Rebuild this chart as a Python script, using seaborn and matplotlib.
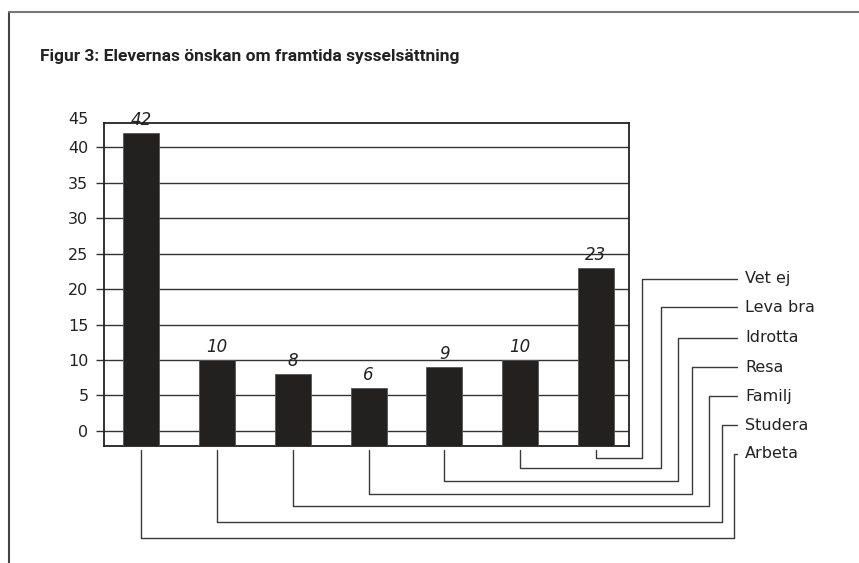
import matplotlib
matplotlib.use("Agg")
import matplotlib.pyplot as plt
from matplotlib.lines import Line2D
import seaborn as sns
import pandas as pd

# data
kategorier = ['Arbeta', 'Studera', 'Familj', 'Resa', 'Idrotta', 'Leva bra', 'Vet ej']
antal = [42, 10, 8, 6, 9, 10, 23]
y_ticks = [0, 5, 10, 15, 20, 25, 30, 35, 40]
y_top_label = '45'
titel = 'Figur 3: Elevernas önskan om framtida sysselsättning'

# layout for leader lines (pixels), same order as kategorier
drop_y = [538, 522, 506, 494, 481, 468, 458]
elbow_x = [734, 722, 709, 692, 678, 661, 642]
label_y = [454, 425, 396, 367, 338, 307, 279]

Y_MIN, Y_MAX = -2.1, 43.5
W, H = 859, 563

df = pd.DataFrame({'kategori': kategorier, 'antal': antal})
# bars run from the floor of the axes up to the value
df['hojd'] = df['antal'] - Y_MIN

sns.set_style('white')
plt.rcParams['font.family'] = ['DejaVu Sans']

fig = plt.figure(figsize=(W / 100, H / 100), dpi=100)
ax = fig.add_axes([103.7 / W, 1 - 445.7 / H, (629 - 103.7) / W, (445.7 - 122.7) / H])

sns.barplot(data=df, x='kategori', y='hojd', color='#231f20', width=0.475,
            bottom=Y_MIN, edgecolor='#555555', linewidth=0.6, ax=ax, zorder=3)

ax.set_xlim(-0.492, 6.435)
ax.set_ylim(Y_MIN, Y_MAX)
ax.set_xticks([])
ax.set_yticks(y_ticks)
ax.set_xlabel('')
ax.set_ylabel('')
ax.yaxis.grid(True, color='#333333', lw=1)
ax.tick_params(axis='y', left=True, length=6, width=1, color='#333333',
               pad=5, labelsize=11.5, labelcolor='#222222')
ax.annotate(y_top_label, xy=(0, 1), xycoords='axes fraction', xytext=(-11, 2),
            textcoords='offset points', ha='right', va='center', fontsize=11.5, color='#222222')
for s in ax.spines.values():
    s.set_visible(True)
    s.set_color('#222222')
    s.set_linewidth(1.3)

# value labels
for i, v in enumerate(antal):
    ax.annotate(str(v), (i, v), xytext=(0, 3), textcoords='offset points',
                ha='center', va='bottom', style='italic', fontsize=12, color='#222222')

# leader lines from bars to category labels
def fxy(px, py):
    return px / W, 1 - py / H

for i, namn in enumerate(kategorier):
    cx = ax.transData.transform((i, 0))[0]
    pts = [(cx, 450), (cx, drop_y[i]), (elbow_x[i], drop_y[i]),
           (elbow_x[i], label_y[i]), (737, label_y[i])]
    xs, ys = zip(*[fxy(px, py) for px, py in pts])
    fig.add_artist(Line2D(xs, ys, transform=fig.transFigure, color='#3a3a3a', lw=1))
    tx, ty = fxy(745, label_y[i])
    fig.text(tx, ty, namn, ha='left', va='center', fontsize=11.5, color='#222222')

# frame round the figure
fig.add_artist(Line2D([9 / W, 9 / W], [0, 1 - 12 / H], transform=fig.transFigure, color='#444444', lw=1.5))
fig.add_artist(Line2D([9 / W, 1], [1 - 12 / H, 1 - 12 / H], transform=fig.transFigure, color='#777777', lw=1.5))

fig.text(40 / W, 1 - 56 / H, titel, ha='left', va='center', fontsize=12.5, fontweight='bold',
         family=['Roboto', 'DejaVu Sans'], color='#222222')

fig.savefig('out.png', dpi=100, facecolor='white')
